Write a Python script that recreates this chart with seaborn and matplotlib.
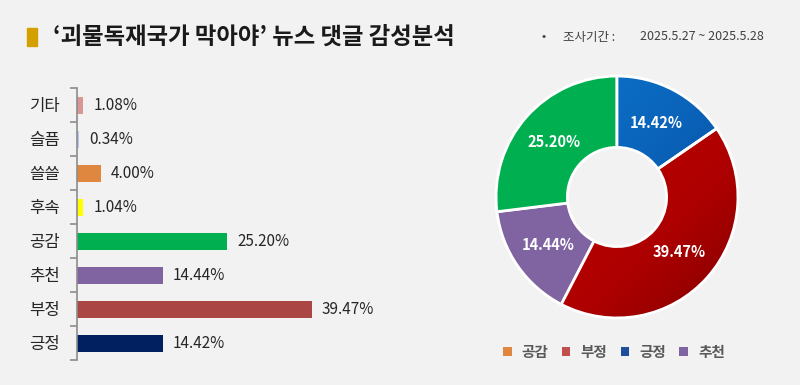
import numpy as np
import matplotlib
matplotlib.use("Agg")
from matplotlib import pyplot as plt
from matplotlib.patches import Patch
from matplotlib.colors import LinearSegmentedColormap
import seaborn as sns
import pandas as pd

# 막대 그래프 데이터 (위에서 아래 순서)
bar_labels = ["기타", "슬픔", "쓸쓸", "후속", "공감", "추천", "부정", "긍정"]
bar_values = [1.08, 0.34, 4.00, 1.04, 25.20, 14.44, 39.47, 14.42]
bar_colors = ["#d99694", "#b4c7e7", "#e0873f", "#ffff00",
              "#00b050", "#8064a2", "#aa4643", "#002060"]

# 도넛 그래프 데이터 (12시 방향부터 시계방향)
pie_labels = ["긍정", "부정", "추천", "공감"]
pie_values = [14.42, 39.47, 14.44, 25.20]
pie_colors = ["#0a5cb0", "#b00000", "#8064a2", "#00b050"]

legend_labels = ["공감", "부정", "긍정", "추천"]
legend_colors = ["#e0873f", "#c0504d", "#1f4e9a", "#8064a2"]

title_text = "‘괴물독재국가 막아야’ 뉴스 댓글 감성분석"
period_text = "조사기간 :"
date_text = "2025.5.27 ~ 2025.5.28"

sns.set_style("white")
plt.rcParams["font.family"] = ["Noto Sans CJK KR", "DejaVu Sans"]
bg = "#f2f2f2"

fig = plt.figure(figsize=(8, 3.85), dpi=100, facecolor=bg)

# ---- 제목 영역
fig.patches.append(plt.Rectangle((27 / 800, 1 - 46 / 385), 10 / 800, 18 / 385,
                                 transform=fig.transFigure, color="#d4a000"))
fig.text(53 / 800, 1 - 37 / 385, title_text, fontsize=16.8, fontweight="bold",
         color="#1a1a1a", va="center", ha="left")
fig.text(541 / 800, 1 - 37 / 385, "•", fontsize=9, color="#404040", va="center")
fig.text(563 / 800, 1 - 37 / 385, period_text, fontsize=9, color="#404040", va="center")
fig.text(640 / 800, 1 - 37 / 385, date_text, fontsize=9, color="#404040", va="center")

# ---- 가로 막대 그래프
df = pd.DataFrame({"label": bar_labels, "value": bar_values})
ax = fig.add_axes([77 / 800, 1 - 360 / 385, 323 / 800, 272 / 385])
ax.set_facecolor(bg)
sns.barplot(data=df, x="value", y="label", hue="label", order=bar_labels,
            palette=dict(zip(bar_labels, bar_colors)), width=0.5,
            legend=False, ax=ax, saturation=1, edgecolor="none")
ax.set_xlim(0, 54.3)
ax.set_ylim(7.5, -0.5)
for i, v in enumerate(bar_values):
    ax.text(v + 1.7, i, f"{v:.2f}%", va="center", ha="left",
            fontsize=11, color="#262626")
ax.set_xlabel("")
ax.set_ylabel("")
ax.set_xticks([])
# 눈금선은 범주 경계(major), 이름표는 범주 중앙(minor)
ax.set_yticks(np.arange(-0.5, len(bar_labels), 1))
ax.set_yticklabels([])
ax.set_yticks(range(len(bar_labels)), minor=True)
ax.set_yticklabels(bar_labels, minor=True, fontsize=12, color="#262626")
ax.tick_params(axis="y", which="major", left=True, length=5, width=1.2, color="#8c8c8c")
ax.tick_params(axis="y", which="minor", left=False, length=0, pad=12)
for s in ["top", "right", "bottom"]:
    ax.spines[s].set_visible(False)
ax.spines["left"].set_color("#8c8c8c")
ax.spines["left"].set_linewidth(1.2)

# ---- 도넛 그래프
pax = fig.add_axes([(617 - 127) / 800, 1 - (197 + 127) / 385, 254 / 800, 254 / 385])
pax.set_facecolor(bg)
wedges, _ = pax.pie(pie_values, colors=pie_colors, startangle=90, counterclock=False,
                    radius=1, wedgeprops=dict(width=0.59, edgecolor="white", linewidth=2))
pax.set_xlim(-1.05, 1.05)
pax.set_ylim(-1.05, 1.05)
pax.set_aspect("equal")
pax.axis("off")

# 파랑, 빨강 조각에 그라데이션
grad = np.linspace(0, 1, 200)
gx, gy = np.meshgrid(grad, grad)
g = (gx + gy) / 2
gradients = {
    0: ["#0a78d0", "#0a62b8", "#003a85"],
    1: ["#d00000", "#bc0000", "#ae0000", "#850000"],
}
for idx, cols in gradients.items():
    cmap = LinearSegmentedColormap.from_list("g%d" % idx, cols)
    im = pax.imshow(g, cmap=cmap, extent=[-1, 1, -1, 1], origin="upper",
                    interpolation="bilinear", zorder=wedges[idx].get_zorder())
    im.set_clip_path(wedges[idx])
    wedges[idx].set_zorder(wedges[idx].get_zorder() + 0.1)
    wedges[idx].set_facecolor("none")

for w, v in zip(wedges, pie_values):
    ang = np.deg2rad((w.theta1 + w.theta2) / 2)
    pax.text(0.69 * np.cos(ang), 0.69 * np.sin(ang), f"{v:.2f}%", ha="center",
             va="center", color="white", fontsize=10.5, fontweight="bold", zorder=5)

handles = [Patch(facecolor=c, edgecolor="none") for c in legend_colors]
leg = fig.legend(handles, legend_labels, loc="center", bbox_to_anchor=(614 / 800, 1 - 352 / 385),
                 ncol=4, frameon=False, handlelength=0.6, handleheight=0.6,
                 handletextpad=0.7, columnspacing=0.9,
                 prop={"size": 10.5, "weight": "bold"})
for t in leg.get_texts():
    t.set_color("#595959")

fig.savefig("out.png", dpi=100, facecolor=bg)
